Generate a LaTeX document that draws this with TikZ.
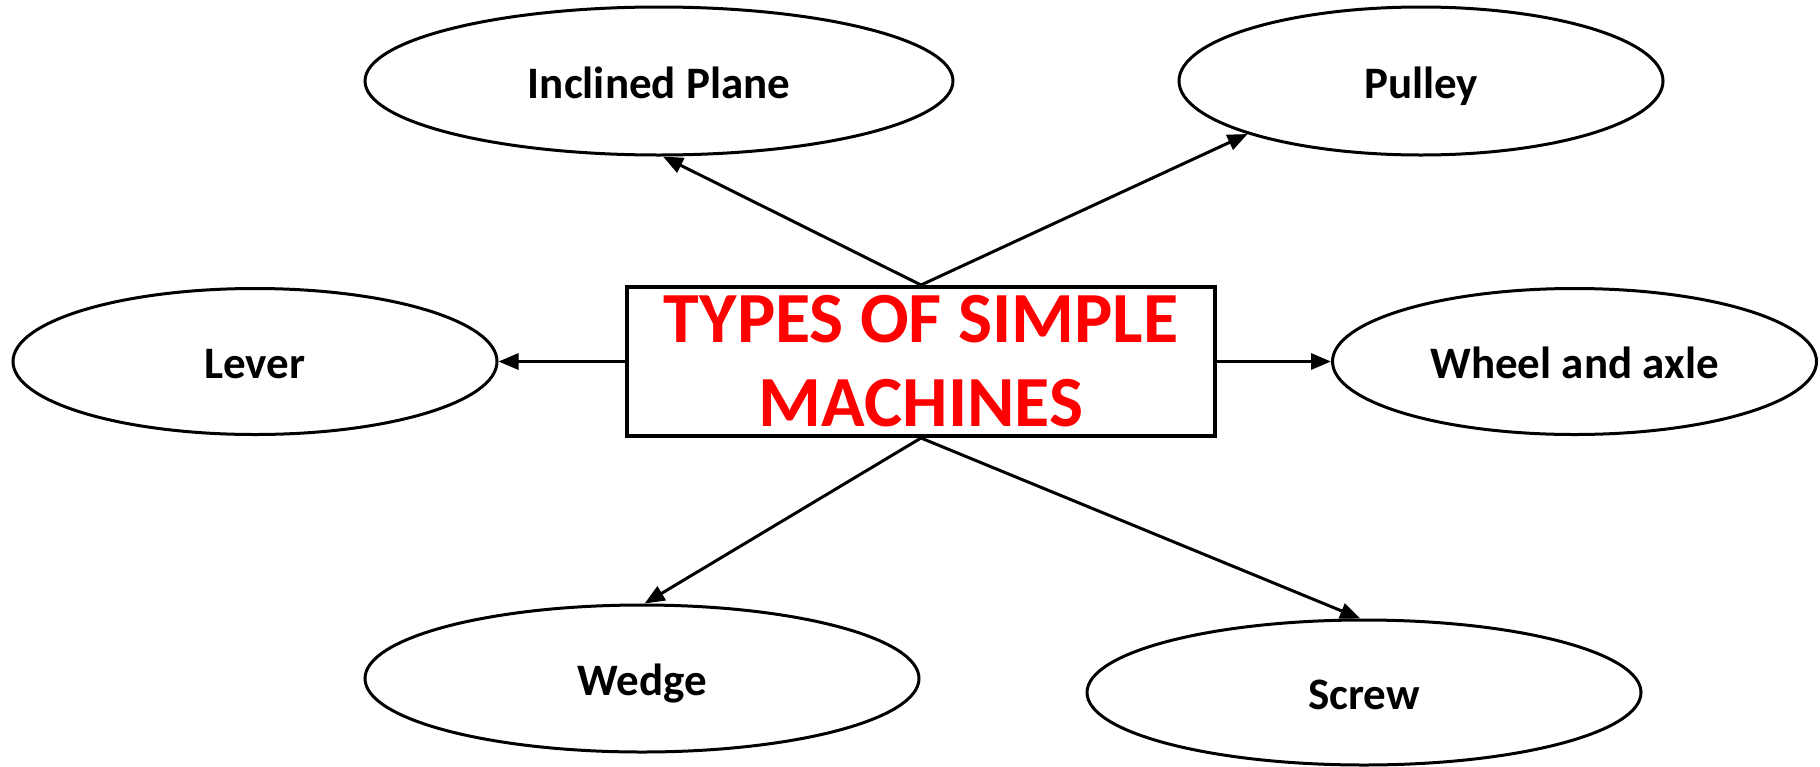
\documentclass[tikz,border=0pt]{standalone}
\usepackage{fontspec}
\setmainfont{Carlito}
\usetikzlibrary{shapes.geometric,arrows.meta}
\definecolor{titlered}{RGB}{255,0,0}
\tikzset{
  machine/.style={draw=black, line width=3pt, ellipse, inner sep=0pt, fill=white,
    text height=34pt, text depth=0pt,
    font=\fontsize{45}{52}\selectfont\bfseries},
  titlebox/.style={draw=black, line width=4pt, rectangle, inner sep=0pt, fill=white,
    minimum width=588pt, minimum height=149pt, align=center,
    text=titlered, font=\fontsize{72}{84}\selectfont\bfseries},
  link/.style={draw=black, line width=3pt, -{Triangle[length=20pt,width=16pt]}}
}
\begin{document}
\begin{tikzpicture}[x=1pt,y=-1pt]
\useasboundingbox (0,0) rectangle (1820,766);
\node[titlebox] (main) at (921,361.5) {TYPES OF SIMPLE\\MACHINES};
\node[machine, minimum width=588pt, minimum height=148pt] (ip) at (659,81) {Inclined Plane};
\node[machine, minimum width=484pt, minimum height=148pt] (pul) at (1421,81) {Pulley};
\node[machine, minimum width=484pt, minimum height=146pt] (lev) at (255,361.5) {Lever};
\node[machine, minimum width=484pt, minimum height=146pt] (wa) at (1574.5,361.5) {Wheel and axle};
\node[machine, minimum width=554pt, minimum height=147pt] (wed) at (642,678.5) {Wedge};
\node[machine, minimum width=554pt, minimum height=145pt] (scr) at (1364,692.5) {Screw};
\draw[link] (main.north) -- (ip.273);
\draw[link] (main.north) -- (pul.197);
\draw[link] (main.west) -- (lev.east);
\draw[link] (main.east) -- (wa.west);
\draw[link] (main.south) -- (wed.88);
\draw[link] (main.south) -- (scr.93);
\end{tikzpicture}
\end{document}
